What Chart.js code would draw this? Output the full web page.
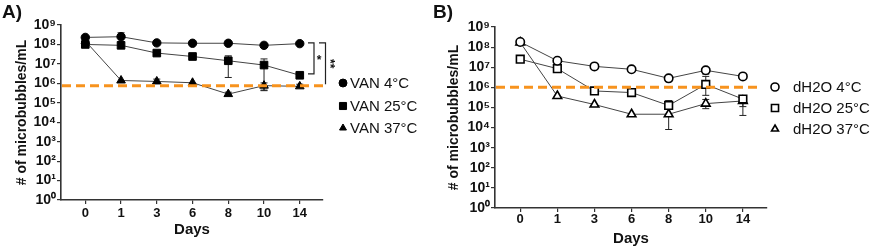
<!DOCTYPE html>
<html><head><meta charset="utf-8">
<script src="https://cdn.jsdelivr.net/npm/chart.js@4"></script>
<style>
body{margin:0;background:#fff;width:871px;height:249px;position:relative;overflow:hidden;font-family:"Liberation Sans",Arial,sans-serif}
.panel{position:absolute;top:0;height:249px}
.tag{position:absolute;top:1px;font:bold 19px "Liberation Sans",Arial,sans-serif;color:#111}
</style></head><body>
<div class="panel" style="left:0;width:440px"><canvas id="cA" width="440" height="249"></canvas></div>
<div class="panel" style="left:440px;width:431px"><canvas id="cB" width="431" height="249"></canvas></div>
<div class="tag" style="left:2px">A)</div>
<div class="tag" style="left:433px">B)</div>
<script>
// ---- data ----
const days = ['0','1','3','6','8','10','14'];
const yExponents = [0,1,2,3,4,5,6,7,8,9];

const vanLabels = ['VAN 4°C','VAN 25°C','VAN 37°C'];
const van4   = [2.3e8, 2.5e8, 1.2e8, 1.15e8, 1.15e8, 9.0e7, 1.1e8];
const van4Hi = [null, 4.0e8, null, null, null, null, null];
const van4Lo = [null, null, null, null, null, null, null];
const van25   = [1.0e8, 9.0e7, 3.6e7, 2.4e7, 1.45e7, 8.7e6, 2.6e6];
const van25Hi = [null, null, null, null, 2.6e7, 1.8e7, null];
const van25Lo = [null, null, null, null, 2.0e6, 4.5e5, null];
const van37   = [1.5e8, 1.4e6, 1.25e6, 1.07e6, 2.8e5, 7.6e5, 7.0e5];
const van37Hi = [null, null, 1.65e6, null, 3.5e5, 1.05e6, 9.0e5];
const van37Lo = [null, null, 1.0e6, null, 2.3e5, 4.2e5, null];

const dhLabels = ['dH2O 4°C','dH2O 25°C','dH2O 37°C'];
const dh4   = [1.8e8, 2.1e7, 1.1e7, 7.9e6, 2.8e6, 7.0e6, 3.5e6];
const dh4Hi = [null, null, null, null, 3.5e6, 9.0e6, null];
const dh4Lo = [null, null, null, null, 2.1e6, 4.5e6, null];
const dh25   = [2.5e7, 8.5e6, 6.6e5, 5.5e5, 1.26e5, 1.4e6, 2.6e5];
const dh25Hi = [null, null, null, null, 2.2e5, 3.5e6, 3.2e5];
const dh25Lo = [null, null, null, null, 9.0e4, 4.0e5, 1.1e5];
const dh37   = [1.7e8, 3.7e5, 1.4e5, 4.6e4, 4.6e4, 1.55e5, 2.1e5];
const dh37Hi = [null, null, null, null, 1.0e5, 2.5e5, 3.0e5];
const dh37Lo = [null, null, null, null, 8.0e3, 8.7e4, 4.0e4];

const thresholdA = [7.5e5];
const thresholdB = [1.0e6];
const sigLabels = ['*','**'];

// ---- helpers ----
const SUP = {'0':'⁰','1':'¹','2':'²','3':'³','4':'⁴','5':'⁵','6':'⁶','7':'⁷','8':'⁸','9':'⁹'};
const supStr = n => String(n).split('').map(c=>SUP[c]).join('');
const FONT = '"Liberation Sans", Arial, sans-serif';
const AX = '#333';

function series(vals){ return vals.map((v,i)=>({x:i,y:v})); }

function mkDataset(label, vals, hi, lo, style, filled){
  return {
    label, data: series(vals), errHi: hi, errLo: lo,
    borderColor:'#444', borderWidth:1, tension:0,
    pointStyle: style,
    pointRadius: style==='rect'?5.4:(style==='triangle'?5:4.2),
    pointHoverRadius: 5,
    pointBackgroundColor: filled?'#000':'#fff',
    pointBorderColor:'#000',
    pointBorderWidth: filled?1:1.6
  };
}

const errorBars = {
  id:'errorBars',
  beforeDatasetsDraw(chart){
    const ctx = chart.ctx, ys = chart.scales.y;
    ctx.save(); ctx.strokeStyle='#222'; ctx.lineWidth=1;
    chart.data.datasets.forEach((ds,di)=>{
      const meta = chart.getDatasetMeta(di);
      meta.data.forEach((pt,i)=>{
        const x = pt.x, y = pt.y;
        [ds.errHi[i], ds.errLo[i]].forEach(v=>{
          if(v==null) return;
          const yy = ys.getPixelForValue(v);
          ctx.beginPath(); ctx.moveTo(x,y); ctx.lineTo(x,yy);
          ctx.moveTo(x-3.5,yy); ctx.lineTo(x+3.5,yy); ctx.stroke();
        });
      });
    });
    ctx.restore();
  }
};

const threshold = {
  id:'threshold',
  afterDatasetsDraw(chart, args, opts){
    const ctx = chart.ctx, ys = chart.scales.y, a = chart.chartArea;
    const y = ys.getPixelForValue(opts.value);
    ctx.save(); ctx.strokeStyle='#F7931E'; ctx.lineWidth=3; ctx.setLineDash([9,5]);
    ctx.beginPath(); ctx.moveTo(a.left+1,y); ctx.lineTo(a.right+opts.extra,y); ctx.stroke();
    ctx.restore();
  }
};

const legendPlug = {
  id:'customLegend',
  afterDraw(chart, args, opts){
    const ctx = chart.ctx;
    chart.data.datasets.forEach((ds,i)=>{
      const y = opts.ys[i];
      ctx.save();
      ctx.fillStyle = ds.pointBackgroundColor; ctx.strokeStyle='#000';
      ctx.lineWidth = ds.pointBorderWidth;
      Chart.helpers.drawPoint(ctx, {pointStyle:ds.pointStyle, radius: ds.pointStyle==='rect'?5:4, borderWidth:ds.pointBorderWidth}, opts.mx, y);
      ctx.fillStyle='#111'; ctx.font='15px '+FONT; ctx.textBaseline='middle'; ctx.textAlign='left';
      ctx.fillText(ds.label, opts.tx, y+1);
      ctx.restore();
    });
  }
};

const brackets = {
  id:'brackets',
  afterDraw(chart, args, opts){
    if(!opts.enabled) return;
    const ctx = chart.ctx, ys = chart.scales.y, ds = chart.data.datasets;
    const last = days.length-1;
    const top = ys.getPixelForValue(ds[0].data[last].y)-0.7;
    const b1 = ys.getPixelForValue(ds[1].data[last].y)-1.3;
    const b2 = ys.getPixelForValue(ds[2].data[last].y)-2;
    ctx.save(); ctx.strokeStyle='#222'; ctx.lineWidth=1.2;
    ctx.beginPath();
    ctx.moveTo(308,top); ctx.lineTo(314,top); ctx.lineTo(314,b1); ctx.lineTo(308,b1);
    ctx.moveTo(319,top); ctx.lineTo(325.5,top); ctx.lineTo(325.5,b2);
    ctx.stroke();
    ctx.fillStyle='#111'; ctx.font='bold 12px '+FONT; ctx.textAlign='center'; ctx.textBaseline='middle';
    ctx.fillText(sigLabels[0], 319, (top+b1)/2+2);
    ctx.translate(331,(top+b2)/2); ctx.rotate(Math.PI/2);
    ctx.fillText(sigLabels[1], 0, 2);
    ctx.restore();
  }
};

function makeChart(id, labels, sets, filled, cfg){
  const styles = ['circle','rect','triangle'];
  return new Chart(document.getElementById(id), {
    type:'line',
    data:{ datasets: sets.map((s,i)=>mkDataset(labels[i], s[0], s[1], s[2], styles[i], filled)) },
    options:{
      responsive:false, animation:false,
      layout:{padding:{left:0, top:cfg.top, right:cfg.right, bottom:0}},
      plugins:{
        legend:{display:false}, tooltip:{enabled:false},
        threshold:{value:cfg.thr, extra:cfg.thrExtra},
        customLegend:{mx:cfg.mx, tx:cfg.tx, ys:cfg.legYs},
        brackets:{enabled:cfg.brackets}
      },
      scales:{
        x:{
          type:'linear', min:-0.68, max:6.65,
          afterBuildTicks(s){ s.ticks = days.map((d,i)=>({value:i})); },
          afterFit(s){ s.height = cfg.xh; },
          ticks:{ callback:(v)=>days[v], color:'#111', font:{family:FONT, size:13, weight:'bold'}, padding:cfg.xpad, maxRotation:0, autoSkip:false },
          grid:{display:true, drawOnChartArea:false, drawTicks:true, tickLength:4, color:AX, lineWidth:1.2},
          border:{display:true, color:AX, width:1.6},
          title:{display:true, text:'Days', color:'#111', font:{family:FONT, size:15, weight:'bold'}, padding:{top:0,bottom:cfg.dpb}}
        },
        y:{
          type:'logarithmic', min:1, max:1e9,
          afterBuildTicks(s){ s.ticks = yExponents.map(e=>({value:Math.pow(10,e)})); },
          afterFit(s){ s.width = cfg.yw; },
          ticks:{ callback:(v)=>'10'+supStr(Math.round(Math.log10(v))), color:'#111', font:{family:FONT, size:14, weight:'bold'}, padding:1, autoSkip:false },
          grid:{display:true, drawOnChartArea:false, drawTicks:true, tickLength:4, color:AX, lineWidth:1.2},
          border:{display:true, color:AX, width:1.6},
          title:{display:true, text:'# of microbubbles/mL', color:'#111', font:{family:FONT, size:14, weight:'bold'}, padding:{top:cfg.ypt, bottom:0}}
        }
      }
    },
    plugins:[errorBars, threshold, legendPlug, brackets]
  });
}

makeChart('cA', vanLabels,
  [[van4,van4Hi,van4Lo],[van25,van25Hi,van25Lo],[van37,van37Hi,van37Lo]], true,
  {top:25, right:117, xh:49, yw:61, xpad:2, dpb:10, ypt:14, thr:thresholdA[0], thrExtra:3,
   mx:343, tx:350, legYs:[83,106,128], brackets:true});

makeChart('cB', dhLabels,
  [[dh4,dh4Hi,dh4Lo],[dh25,dh25Hi,dh25Lo],[dh37,dh37Hi,dh37Lo]], false,
  {top:27, right:104, xh:41, yw:55, xpad:0, dpb:1, ypt:6, thr:thresholdB[0], thrExtra:-6,
   mx:335, tx:353, legYs:[87,108,129], brackets:false});
</script>
</body></html>
